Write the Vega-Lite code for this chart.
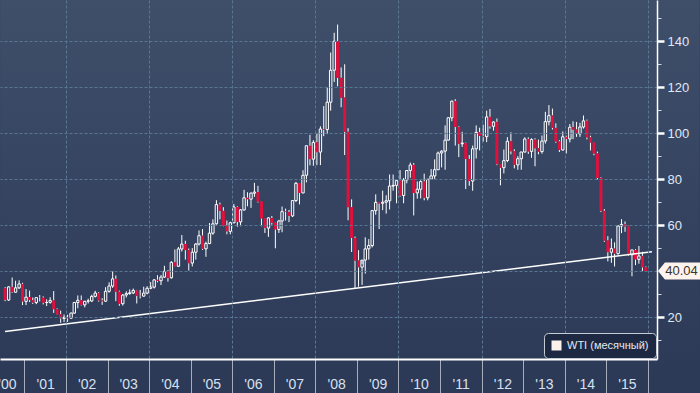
{
"$schema":"https://vega.github.io/schema/vega-lite/v6.json",
"width":657,"height":359,
"autosize":{"type":"none"},
"padding":{"left":0,"top":0,"right":43,"bottom":34},
"background":"#2c3957",
"config":{"view":{"stroke":null},
 "axis":{"title":null,"labelFont":"Liberation Sans"},
 "legend":{"orient":"bottom-right","offset":1,"padding":7,"cornerRadius":4,"fillColor":"#1d2843","strokeColor":"#c5cad3","strokeWidth":1,"labelFont":"Liberation Sans","labelFontSize":11,"labelColor":"#e4e9f2","symbolSize":100,"symbolType":"square","labelOffset":5,"zindex":2}},
"data":{"values":[
{"d":"2000-07-15","o":32.5,"h":33.0,"l":26.9,"c":27.43},
{"d":"2000-08-15","o":27.4,"h":33.4,"l":27.0,"c":33.12},
{"d":"2000-09-15","o":33.1,"h":37.2,"l":30.5,"c":30.84},
{"d":"2000-10-15","o":30.8,"h":35.8,"l":30.6,"c":32.7},
{"d":"2000-11-15","o":32.7,"h":36.0,"l":32.2,"c":34.4},
{"d":"2000-12-15","o":34.4,"h":34.9,"l":25.2,"c":26.8},
{"d":"2001-01-15","o":26.8,"h":32.2,"l":25.2,"c":28.66},
{"d":"2001-02-15","o":28.7,"h":31.5,"l":26.5,"c":27.39},
{"d":"2001-03-15","o":27.4,"h":28.5,"l":25.7,"c":26.29},
{"d":"2001-04-15","o":26.3,"h":28.5,"l":25.6,"c":28.46},
{"d":"2001-05-15","o":28.4,"h":29.6,"l":26.8,"c":28.37},
{"d":"2001-06-15","o":28.4,"h":29.0,"l":25.5,"c":26.25},
{"d":"2001-07-15","o":26.3,"h":27.7,"l":24.8,"c":26.35},
{"d":"2001-08-15","o":26.4,"h":28.6,"l":25.8,"c":27.2},
{"d":"2001-09-15","o":27.2,"h":31.3,"l":21.8,"c":23.43},
{"d":"2001-10-15","o":23.4,"h":23.8,"l":21.0,"c":21.18},
{"d":"2001-11-15","o":21.2,"h":22.8,"l":17.5,"c":19.44},
{"d":"2001-12-15","o":19.4,"h":21.1,"l":17.8,"c":19.84},
{"d":"2002-01-15","o":19.8,"h":21.0,"l":17.9,"c":19.48},
{"d":"2002-02-15","o":19.5,"h":21.9,"l":19.3,"c":21.74},
{"d":"2002-03-15","o":21.7,"h":26.6,"l":21.5,"c":26.31},
{"d":"2002-04-15","o":26.3,"h":29.4,"l":23.8,"c":27.29},
{"d":"2002-05-15","o":27.3,"h":29.4,"l":25.0,"c":25.31},
{"d":"2002-06-15","o":25.3,"h":27.0,"l":24.2,"c":26.86},
{"d":"2002-07-15","o":26.9,"h":28.0,"l":25.9,"c":27.02},
{"d":"2002-08-15","o":27.0,"h":29.7,"l":26.5,"c":28.98},
{"d":"2002-09-15","o":29.0,"h":31.4,"l":28.5,"c":30.45},
{"d":"2002-10-15","o":30.5,"h":30.9,"l":26.7,"c":27.22},
{"d":"2002-11-15","o":27.2,"h":28.2,"l":25.3,"c":26.89},
{"d":"2002-12-15","o":26.9,"h":33.0,"l":26.6,"c":31.2},
{"d":"2003-01-15","o":31.2,"h":35.1,"l":30.6,"c":33.51},
{"d":"2003-02-15","o":33.5,"h":39.99,"l":32.7,"c":36.6},
{"d":"2003-03-15","o":36.6,"h":38.1,"l":26.9,"c":31.04},
{"d":"2003-04-15","o":31.0,"h":31.5,"l":24.9,"c":25.8},
{"d":"2003-05-15","o":25.8,"h":30.0,"l":25.0,"c":29.56},
{"d":"2003-06-15","o":29.6,"h":31.2,"l":28.5,"c":30.19},
{"d":"2003-07-15","o":30.2,"h":32.0,"l":29.7,"c":30.54},
{"d":"2003-08-15","o":30.5,"h":32.4,"l":30.0,"c":31.57},
{"d":"2003-09-15","o":31.6,"h":31.8,"l":25.9,"c":29.2},
{"d":"2003-10-15","o":29.2,"h":31.8,"l":28.1,"c":29.11},
{"d":"2003-11-15","o":29.1,"h":33.2,"l":28.9,"c":30.41},
{"d":"2003-12-15","o":30.4,"h":33.4,"l":29.9,"c":32.52},
{"d":"2004-01-15","o":32.5,"h":35.2,"l":32.1,"c":33.05},
{"d":"2004-02-15","o":33.0,"h":36.5,"l":32.4,"c":36.16},
{"d":"2004-03-15","o":36.2,"h":38.2,"l":35.1,"c":35.76},
{"d":"2004-04-15","o":35.8,"h":38.3,"l":33.9,"c":37.38},
{"d":"2004-05-15","o":37.4,"h":42.3,"l":37.0,"c":39.88},
{"d":"2004-06-15","o":39.9,"h":40.4,"l":35.4,"c":37.05},
{"d":"2004-07-15","o":37.1,"h":44.3,"l":36.7,"c":43.8},
{"d":"2004-08-15","o":43.8,"h":49.4,"l":42.0,"c":42.12},
{"d":"2004-09-15","o":42.1,"h":50.5,"l":41.8,"c":49.64},
{"d":"2004-10-15","o":49.6,"h":55.67,"l":48.5,"c":51.76},
{"d":"2004-11-15","o":51.8,"h":53.2,"l":45.0,"c":49.13},
{"d":"2004-12-15","o":49.1,"h":49.8,"l":40.2,"c":43.45},
{"d":"2005-01-15","o":43.5,"h":50.0,"l":42.0,"c":48.2},
{"d":"2005-02-15","o":48.2,"h":52.2,"l":45.0,"c":51.75},
{"d":"2005-03-15","o":51.8,"h":57.7,"l":51.1,"c":55.4},
{"d":"2005-04-15","o":55.4,"h":58.3,"l":49.2,"c":49.72},
{"d":"2005-05-15","o":49.7,"h":52.8,"l":46.2,"c":51.97},
{"d":"2005-06-15","o":52.0,"h":60.9,"l":51.7,"c":56.5},
{"d":"2005-07-15","o":56.5,"h":62.5,"l":55.8,"c":60.57},
{"d":"2005-08-15","o":60.6,"h":70.85,"l":60.2,"c":68.94},
{"d":"2005-09-15","o":68.9,"h":69.8,"l":62.5,"c":66.24},
{"d":"2005-10-15","o":66.2,"h":67.8,"l":59.5,"c":59.76},
{"d":"2005-11-15","o":59.8,"h":62.0,"l":56.0,"c":57.32},
{"d":"2005-12-15","o":57.3,"h":61.5,"l":56.0,"c":61.04},
{"d":"2006-01-15","o":61.0,"h":69.2,"l":60.8,"c":67.92},
{"d":"2006-02-15","o":67.9,"h":68.2,"l":59.3,"c":61.41},
{"d":"2006-03-15","o":61.4,"h":67.0,"l":59.5,"c":66.63},
{"d":"2006-04-15","o":66.6,"h":75.35,"l":66.3,"c":71.88},
{"d":"2006-05-15","o":71.9,"h":74.3,"l":68.2,"c":71.29},
{"d":"2006-06-15","o":71.3,"h":74.2,"l":67.5,"c":73.93},
{"d":"2006-07-15","o":73.9,"h":78.4,"l":72.3,"c":74.4},
{"d":"2006-08-15","o":74.4,"h":77.1,"l":69.8,"c":70.26},
{"d":"2006-09-15","o":70.3,"h":70.4,"l":59.5,"c":62.91},
{"d":"2006-10-15","o":62.9,"h":63.0,"l":56.6,"c":58.73},
{"d":"2006-11-15","o":58.7,"h":63.5,"l":54.9,"c":63.13},
{"d":"2006-12-15","o":63.1,"h":64.0,"l":60.2,"c":61.05},
{"d":"2007-01-15","o":61.1,"h":61.3,"l":49.9,"c":58.14},
{"d":"2007-02-15","o":58.1,"h":62.3,"l":56.6,"c":61.79},
{"d":"2007-03-15","o":61.8,"h":68.1,"l":56.9,"c":65.87},
{"d":"2007-04-15","o":65.9,"h":67.2,"l":62.0,"c":65.71},
{"d":"2007-05-15","o":65.7,"h":66.6,"l":61.3,"c":64.01},
{"d":"2007-06-15","o":64.0,"h":70.8,"l":63.5,"c":70.68},
{"d":"2007-07-15","o":70.7,"h":78.8,"l":70.0,"c":78.21},
{"d":"2007-08-15","o":78.2,"h":78.3,"l":69.0,"c":74.04},
{"d":"2007-09-15","o":74.0,"h":83.9,"l":73.9,"c":81.66},
{"d":"2007-10-15","o":81.7,"h":94.7,"l":78.6,"c":94.53},
{"d":"2007-11-15","o":94.5,"h":99.3,"l":86.0,"c":88.71},
{"d":"2007-12-15","o":88.7,"h":97.0,"l":85.8,"c":95.98},
{"d":"2008-01-15","o":96.0,"h":100.1,"l":86.1,"c":91.75},
{"d":"2008-02-15","o":91.8,"h":103.0,"l":86.1,"c":101.84},
{"d":"2008-03-15","o":101.8,"h":111.8,"l":98.7,"c":101.58},
{"d":"2008-04-15","o":101.6,"h":119.9,"l":99.6,"c":113.46},
{"d":"2008-05-15","o":113.5,"h":135.1,"l":109.8,"c":127.35},
{"d":"2008-06-15","o":127.4,"h":143.7,"l":122.3,"c":140.0},
{"d":"2008-07-15","o":140.0,"h":147.27,"l":120.4,"c":124.08},
{"d":"2008-08-15","o":124.1,"h":128.6,"l":111.3,"c":115.46},
{"d":"2008-09-15","o":115.5,"h":130.0,"l":90.5,"c":100.64},
{"d":"2008-10-15","o":100.6,"h":102.2,"l":62.1,"c":67.81},
{"d":"2008-11-15","o":67.8,"h":71.2,"l":48.3,"c":54.43},
{"d":"2008-12-15","o":54.4,"h":55.0,"l":32.4,"c":44.6},
{"d":"2009-01-15","o":44.6,"h":49.1,"l":33.2,"c":41.68},
{"d":"2009-02-15","o":41.7,"h":43.0,"l":34.0,"c":44.76},
{"d":"2009-03-15","o":44.8,"h":54.7,"l":38.9,"c":49.66},
{"d":"2009-04-15","o":49.7,"h":53.9,"l":45.0,"c":51.12},
{"d":"2009-05-15","o":51.1,"h":66.5,"l":50.3,"c":66.31},
{"d":"2009-06-15","o":66.3,"h":73.4,"l":64.5,"c":69.89},
{"d":"2009-07-15","o":69.9,"h":70.0,"l":58.3,"c":69.45},
{"d":"2009-08-15","o":69.5,"h":75.0,"l":66.5,"c":69.96},
{"d":"2009-09-15","o":70.0,"h":73.0,"l":65.0,"c":70.61},
{"d":"2009-10-15","o":70.6,"h":82.0,"l":66.8,"c":77.0},
{"d":"2009-11-15","o":77.0,"h":82.0,"l":75.0,"c":77.28},
{"d":"2009-12-15","o":77.3,"h":80.0,"l":69.5,"c":79.36},
{"d":"2010-01-15","o":79.4,"h":83.95,"l":72.4,"c":72.89},
{"d":"2010-02-15","o":72.9,"h":80.5,"l":69.5,"c":79.66},
{"d":"2010-03-15","o":79.7,"h":83.8,"l":78.2,"c":83.76},
{"d":"2010-04-15","o":83.8,"h":87.2,"l":80.6,"c":86.15},
{"d":"2010-05-15","o":86.2,"h":87.0,"l":64.2,"c":73.97},
{"d":"2010-06-15","o":74.0,"h":79.0,"l":71.5,"c":75.63},
{"d":"2010-07-15","o":75.6,"h":79.5,"l":71.6,"c":78.95},
{"d":"2010-08-15","o":79.0,"h":82.4,"l":70.8,"c":71.92},
{"d":"2010-09-15","o":71.9,"h":80.0,"l":70.8,"c":79.97},
{"d":"2010-10-15","o":80.0,"h":84.4,"l":79.8,"c":81.43},
{"d":"2010-11-15","o":81.4,"h":88.6,"l":80.0,"c":84.11},
{"d":"2010-12-15","o":84.1,"h":92.0,"l":84.0,"c":91.38},
{"d":"2011-01-15","o":91.4,"h":92.6,"l":85.1,"c":92.19},
{"d":"2011-02-15","o":92.2,"h":103.4,"l":84.1,"c":96.97},
{"d":"2011-03-15","o":97.0,"h":106.9,"l":96.8,"c":106.72},
{"d":"2011-04-15","o":106.7,"h":114.2,"l":105.2,"c":113.93},
{"d":"2011-05-15","o":113.9,"h":114.8,"l":94.6,"c":102.7},
{"d":"2011-06-15","o":102.7,"h":103.0,"l":89.6,"c":95.42},
{"d":"2011-07-15","o":95.4,"h":100.6,"l":94.0,"c":95.7},
{"d":"2011-08-15","o":95.7,"h":95.9,"l":75.7,"c":88.81},
{"d":"2011-09-15","o":88.8,"h":90.5,"l":77.1,"c":79.2},
{"d":"2011-10-15","o":79.2,"h":94.6,"l":74.95,"c":93.19},
{"d":"2011-11-15","o":93.2,"h":103.4,"l":89.0,"c":100.36},
{"d":"2011-12-15","o":100.4,"h":102.4,"l":92.5,"c":98.83},
{"d":"2012-01-15","o":98.8,"h":103.7,"l":96.3,"c":98.48},
{"d":"2012-02-15","o":98.5,"h":109.8,"l":96.1,"c":107.07},
{"d":"2012-03-15","o":107.1,"h":110.55,"l":102.0,"c":103.02},
{"d":"2012-04-15","o":103.0,"h":105.2,"l":101.1,"c":104.87},
{"d":"2012-05-15","o":104.9,"h":106.4,"l":86.1,"c":86.53},
{"d":"2012-06-15","o":86.5,"h":86.6,"l":77.3,"c":84.96},
{"d":"2012-07-15","o":85.0,"h":92.9,"l":82.5,"c":88.06},
{"d":"2012-08-15","o":88.1,"h":98.3,"l":87.4,"c":96.47},
{"d":"2012-09-15","o":96.5,"h":100.4,"l":90.8,"c":92.19},
{"d":"2012-10-15","o":92.2,"h":93.0,"l":84.7,"c":86.24},
{"d":"2012-11-15","o":86.2,"h":90.0,"l":84.1,"c":88.91},
{"d":"2012-12-15","o":88.9,"h":91.9,"l":84.1,"c":91.82},
{"d":"2013-01-15","o":91.8,"h":98.2,"l":91.6,"c":97.49},
{"d":"2013-02-15","o":97.5,"h":98.2,"l":91.0,"c":92.05},
{"d":"2013-03-15","o":92.1,"h":97.8,"l":89.3,"c":97.23},
{"d":"2013-04-15","o":97.2,"h":97.8,"l":85.6,"c":93.46},
{"d":"2013-05-15","o":93.5,"h":97.2,"l":90.8,"c":91.97},
{"d":"2013-06-15","o":92.0,"h":99.0,"l":91.1,"c":96.56},
{"d":"2013-07-15","o":96.6,"h":109.3,"l":95.5,"c":105.03},
{"d":"2013-08-15","o":105.0,"h":112.24,"l":103.4,"c":107.65},
{"d":"2013-09-15","o":107.7,"h":110.7,"l":101.6,"c":102.33},
{"d":"2013-10-15","o":102.3,"h":104.3,"l":95.8,"c":96.38},
{"d":"2013-11-15","o":96.4,"h":97.0,"l":91.8,"c":92.72},
{"d":"2013-12-15","o":92.7,"h":100.75,"l":92.4,"c":98.42},
{"d":"2014-01-15","o":98.4,"h":98.9,"l":91.2,"c":97.49},
{"d":"2014-02-15","o":97.5,"h":104.0,"l":96.0,"c":102.59},
{"d":"2014-03-15","o":102.6,"h":105.2,"l":97.4,"c":101.58},
{"d":"2014-04-15","o":101.6,"h":104.9,"l":98.4,"c":99.74},
{"d":"2014-05-15","o":99.7,"h":104.5,"l":98.4,"c":102.71},
{"d":"2014-06-15","o":102.7,"h":107.7,"l":102.0,"c":105.37},
{"d":"2014-07-15","o":105.4,"h":105.9,"l":97.3,"c":98.17},
{"d":"2014-08-15","o":98.2,"h":98.9,"l":92.5,"c":95.96},
{"d":"2014-09-15","o":96.0,"h":96.1,"l":90.4,"c":91.16},
{"d":"2014-10-15","o":91.2,"h":92.0,"l":79.8,"c":80.54},
{"d":"2014-11-15","o":80.5,"h":80.8,"l":65.7,"c":66.15},
{"d":"2014-12-15","o":66.2,"h":67.0,"l":52.7,"c":53.27},
{"d":"2015-01-15","o":53.3,"h":55.2,"l":44.2,"c":48.24},
{"d":"2015-02-15","o":48.2,"h":54.2,"l":43.6,"c":49.76},
{"d":"2015-03-15","o":49.8,"h":52.5,"l":42.0,"c":47.6},
{"d":"2015-04-15","o":47.6,"h":59.9,"l":47.1,"c":59.63},
{"d":"2015-05-15","o":59.6,"h":62.6,"l":56.5,"c":60.3},
{"d":"2015-06-15","o":60.3,"h":61.6,"l":57.1,"c":59.47},
{"d":"2015-07-15","o":59.5,"h":59.7,"l":46.7,"c":47.12},
{"d":"2015-08-15","o":47.1,"h":49.3,"l":37.75,"c":49.2},
{"d":"2015-09-15","o":49.2,"h":49.6,"l":42.6,"c":45.09},
{"d":"2015-10-15","o":45.1,"h":50.9,"l":43.2,"c":46.59},
{"d":"2015-11-15","o":46.6,"h":48.4,"l":40.0,"c":41.65},
{"d":"2015-12-15","o":41.65,"h":42.0,"l":39.7,"c":40.04}
]},
"transform":[{"calculate":"max(datum.o,datum.c)","as":"top"},{"calculate":"min(datum.o,datum.c)","as":"bot"}],
"layer":[
{"data":{"values":[{}]},
 "mark":{"type":"rect","clip":false,"color":{"gradient":"linear","x1":0,"y1":0,"x2":0,"y2":1,"stops":[{"offset":0,"color":"#3f4f6a"},{"offset":1,"color":"#2b3856"}]}},
 "encoding":{
  "x":{"datum":{"year":2000,"month":6,"date":1,"utc":true},"type":"temporal",
   "scale":{"type":"utc","domain":[{"year":2000,"month":7,"date":14,"utc":true},{"year":2016,"month":2,"date":7,"utc":true}]},
   "axis":{"orient":"bottom","zindex":1,"values":[{"year":2001,"month":1,"date":1,"utc":true},{"year":2002,"month":1,"date":1,"utc":true},{"year":2003,"month":1,"date":1,"utc":true},{"year":2004,"month":1,"date":1,"utc":true},{"year":2005,"month":1,"date":1,"utc":true},{"year":2006,"month":1,"date":1,"utc":true},{"year":2007,"month":1,"date":1,"utc":true},{"year":2008,"month":1,"date":1,"utc":true},{"year":2009,"month":1,"date":1,"utc":true},{"year":2010,"month":1,"date":1,"utc":true},{"year":2011,"month":1,"date":1,"utc":true},{"year":2012,"month":1,"date":1,"utc":true},{"year":2013,"month":1,"date":1,"utc":true},{"year":2014,"month":1,"date":1,"utc":true},{"year":2015,"month":1,"date":1,"utc":true},{"year":2016,"month":1,"date":1,"utc":true}],
    "labels":false,"grid":false,"domain":false,"ticks":true,"tickSize":34,"tickColor":"#a7aebb","tickWidth":1}},
  "x2":{"datum":{"year":2017,"month":4,"date":1,"utc":true}},
  "y":{"datum":158.2,"type":"quantitative","scale":{"domain":[1.74,157.96],"nice":false,"zero":false},
   "axis":{"orient":"right","zindex":1,"values":[10,30,50,70,90,110,130,150],"labels":false,"grid":false,"domain":false,"ticks":true,"tickSize":4,"tickColor":"#d0d5de","tickWidth":1}},
  "y2":{"datum":-15}
 }},
{"mark":{"type":"rule","color":"#ffffff","strokeWidth":1},
 "encoding":{
  "x":{"field":"d","type":"temporal",
   "scale":{"type":"utc","domain":[{"year":2000,"month":7,"date":14,"utc":true},{"year":2016,"month":2,"date":7,"utc":true}]},
   "axis":{"orient":"bottom","zindex":1,"values":[{"year":2002,"month":1,"date":1,"utc":true},{"year":2004,"month":1,"date":1,"utc":true},{"year":2006,"month":1,"date":1,"utc":true},{"year":2008,"month":1,"date":1,"utc":true},{"year":2010,"month":1,"date":1,"utc":true},{"year":2012,"month":1,"date":1,"utc":true},{"year":2014,"month":1,"date":1,"utc":true},{"year":2016,"month":1,"date":1,"utc":true}],
    "grid":true,"gridColor":"#5a7792","gridDash":[3,2],"gridWidth":1,"ticks":false,"labels":false,"domain":false}},
  "y":{"field":"h","type":"quantitative","scale":{"domain":[1.74,157.96],"nice":false,"zero":false},
   "axis":{"orient":"right","zindex":1,"values":[20,60,80,100,120,140],"grid":false,
    "ticks":true,"tickSize":7,"tickWidth":2.5,"tickColor":"#ffffff","labels":true,"labelFontSize":13,"labelColor":"#e0e8f5","labelPadding":3,
    "domain":true,"domainColor":"#ffffff","domainWidth":1.5}},
  "y2":{"field":"top"}
 }},
{"mark":{"type":"rule","color":"#ffffff","strokeWidth":1},
 "encoding":{
  "x":{"field":"d","type":"temporal",
   "scale":{"type":"utc","domain":[{"year":2000,"month":7,"date":14,"utc":true},{"year":2016,"month":2,"date":7,"utc":true}]},
   "axis":{"orient":"bottom","zindex":1,"values":[{"year":2000,"month":7,"date":31,"utc":true},{"year":2001,"month":7,"date":2,"utc":true},{"year":2002,"month":7,"date":2,"utc":true},{"year":2003,"month":7,"date":2,"utc":true},{"year":2004,"month":7,"date":2,"utc":true},{"year":2005,"month":7,"date":2,"utc":true},{"year":2006,"month":7,"date":2,"utc":true},{"year":2007,"month":7,"date":2,"utc":true},{"year":2008,"month":7,"date":2,"utc":true},{"year":2009,"month":7,"date":2,"utc":true},{"year":2010,"month":7,"date":2,"utc":true},{"year":2011,"month":7,"date":2,"utc":true},{"year":2012,"month":7,"date":2,"utc":true},{"year":2013,"month":7,"date":2,"utc":true},{"year":2014,"month":7,"date":2,"utc":true},{"year":2015,"month":7,"date":2,"utc":true}],
    "format":"'%y","labelFontSize":14,"labelColor":"#d6e0f0","labelPadding":18,"ticks":false,"tickSize":0,"grid":false,
    "domain":true,"domainColor":"#ffffff","domainWidth":2,"labelFlush":false,"labelOverlap":false,"labelBound":false,"labelAlign":"center","labelBaseline":"top"}},
  "y":{"field":"bot","type":"quantitative","scale":{"domain":[1.74,157.96],"nice":false,"zero":false},
   "axis":{"orient":"right","zindex":1,"values":[20,40,60,80,100,120,140],"grid":true,"gridColor":"#5a7792","gridDash":[3,2],"gridWidth":1,"ticks":false,"labels":false,"domain":false}},
  "y2":{"field":"l"}
 }},
{"transform":[{"filter":"datum.c >= datum.o"}],
 "mark":{"type":"bar","width":2.4,"fill":"transparent","stroke":"#ffffff","strokeWidth":1},
 "encoding":{
  "x":{"field":"d","type":"temporal","scale":{"type":"utc","domain":[{"year":2000,"month":7,"date":14,"utc":true},{"year":2016,"month":2,"date":7,"utc":true}]},"axis":null},
  "y":{"field":"o","type":"quantitative","scale":{"domain":[1.74,157.96],"nice":false,"zero":false},"axis":null},
  "y2":{"field":"c"}
 }},
{"transform":[{"filter":"datum.c < datum.o"}],
 "mark":{"type":"bar","width":3,"color":"#e0103c"},
 "encoding":{
  "x":{"field":"d","type":"temporal","scale":{"type":"utc","domain":[{"year":2000,"month":7,"date":14,"utc":true},{"year":2016,"month":2,"date":7,"utc":true}]},"axis":null},
  "y":{"field":"o","type":"quantitative","scale":{"domain":[1.74,157.96],"nice":false,"zero":false},"axis":null},
  "y2":{"field":"c"}
 }},
{"data":{"values":[{"d":"2000-07-14","v":13.74},{"d":"2016-02-07","v":48.43}]},
 "mark":{"type":"line","strokeWidth":1.5},
 "encoding":{
  "x":{"field":"d","type":"temporal","scale":{"type":"utc","domain":[{"year":2000,"month":7,"date":14,"utc":true},{"year":2016,"month":2,"date":7,"utc":true}]},"axis":null},
  "y":{"field":"v","type":"quantitative","scale":{"domain":[1.74,157.96],"nice":false,"zero":false},"axis":null},
  "color":{"datum":"WTI (месячный)","type":"nominal","scale":{"range":["#ffffff"]},
   "legend":{"title":null,"symbolType":"square","encode":{"symbols":{"update":{"fill":{"value":"#fdf1ec"},"stroke":{"value":"#fdf1ec"},"strokeWidth":{"value":0},"opacity":{"value":1}}}}}}
 }},
{"data":{"values":[{"last":40.04}]},
 "mark":{"type":"point","shape":"M -1 0 L -0.67 -0.405 L 1 -0.405 L 1 0.405 L -0.67 0.405 Z","size":1764,"filled":true,"fill":"#fdf3ec","opacity":1,"strokeWidth":0,"xOffset":27,"clip":false},
 "encoding":{
  "x":{"datum":{"year":2016,"month":2,"date":7,"utc":true},"type":"temporal","scale":{"type":"utc","domain":[{"year":2000,"month":7,"date":14,"utc":true},{"year":2016,"month":2,"date":7,"utc":true}]},"axis":null},
  "y":{"field":"last","type":"quantitative","scale":{"domain":[1.74,157.96],"nice":false,"zero":false},"axis":null}
 }},
{"data":{"values":[{"last":40.04}]},
 "mark":{"type":"text","font":"Liberation Sans","fontSize":13,"color":"#3a3530","align":"center","baseline":"middle","xOffset":29.5},
 "encoding":{
  "x":{"datum":{"year":2016,"month":2,"date":7,"utc":true},"type":"temporal","scale":{"type":"utc","domain":[{"year":2000,"month":7,"date":14,"utc":true},{"year":2016,"month":2,"date":7,"utc":true}]},"axis":null},
  "y":{"field":"last","type":"quantitative","scale":{"domain":[1.74,157.96],"nice":false,"zero":false},"axis":null},
  "text":{"field":"last","type":"quantitative","format":".2f"}
 }}
],
"resolve":{"axis":{"x":"independent","y":"independent"}}
}
